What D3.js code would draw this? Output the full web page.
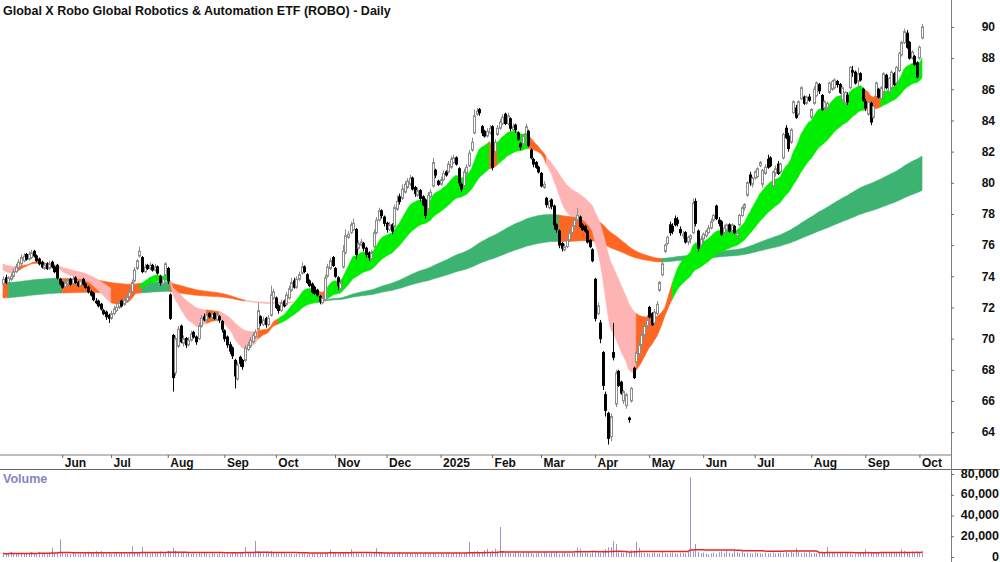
<!DOCTYPE html>
<html>
<head>
<meta charset="utf-8">
<script src="https://cdn.jsdelivr.net/npm/d3@7"></script>
<style>
  body { margin: 0; background: #fff; }
  svg { display: block; }
</style>
</head>
<body>
<svg id="chart" width="1000" height="562"></svg>
<script>
const title = "Global X Robo Global Robotics & Automation ETF (ROBO) - Daily";

// month labels and the bar index of the first trading day of each month
const monthLabels = ["Jun","Jul","Aug","Sep","Oct","Nov","Dec","2025","Feb","Mar","Apr","May","Jun","Jul","Aug","Sep","Oct"];
const monthIdx = [23,42,64,86,106,129,149,170,190,209,230,251,272,292,314,335,356];

const priceTicks = [64,66,68,70,72,74,76,78,80,82,84,86,88,90];
const volumeTicks = [0,20,40,60,80]; // thousands

// daily bars: [open, high, low, close]
const candles = [
[73.5,74.0,73.4,73.8],[73.9,74.1,73.5,73.6],[73.6,74.0,73.5,73.9],[73.8,74.2,73.7,74.0],[74.0,74.5,73.9,74.3],[74.3,74.8,74.2,74.6],[74.5,75.1,74.4,74.9],[74.8,75.4,74.7,75.2],[75.0,75.5,74.9,75.3],[75.4,75.5,75.0,75.1],
[75.1,75.6,75.0,75.4],[75.2,75.7,75.1,75.5],[75.6,75.7,75.2,75.3],[75.3,75.4,74.9,75.0],[75.1,75.2,74.7,74.8],[74.9,75.0,74.5,74.6],[74.5,74.9,74.4,74.7],[74.8,74.9,74.4,74.5],[74.5,75.0,74.4,74.8],[74.9,75.0,74.5,74.6],
[74.6,74.7,74.2,74.3],[74.7,74.8,73.8,73.9],[73.8,73.9,73.4,73.5],[73.6,73.7,73.2,73.3],[73.3,73.8,73.2,73.6],[73.5,73.9,73.4,73.7],[73.8,73.9,73.4,73.5],[73.5,74.0,73.4,73.8],[73.9,74.0,73.5,73.6],[73.6,73.7,73.3,73.4],
[73.4,73.8,73.3,73.7],[73.8,73.9,73.4,73.5],[73.5,73.6,73.2,73.3],[73.3,73.4,72.9,73.0],[73.0,73.1,72.7,72.8],[72.9,73.0,72.4,72.5],[72.4,72.6,72.2,72.3],[72.4,72.5,72.0,72.1],[72.2,72.3,71.8,71.9],[71.8,71.9,71.5,71.6],
[71.7,71.8,71.2,71.4],[71.5,71.6,71.0,71.3],[71.3,71.8,71.2,71.6],[71.6,72.1,71.5,71.9],[71.8,72.2,71.7,72.0],[72.0,72.5,71.9,72.3],[72.4,72.5,72.0,72.1],[72.2,72.7,72.1,72.5],[72.4,72.9,72.3,72.7],[72.7,73.2,72.6,73.0],
[73.0,73.8,72.9,73.6],[73.7,74.6,73.6,74.4],[74.5,75.1,74.4,75.0],[75.3,75.9,75.2,75.6],[75.2,75.3,74.2,74.3],[74.3,74.8,74.2,74.6],[74.7,74.8,74.4,74.5],[74.5,74.9,74.4,74.7],[74.7,74.8,74.3,74.4],[74.4,74.8,74.3,74.6],
[74.6,74.7,74.1,74.2],[74.0,74.1,73.4,73.6],[73.5,73.9,73.4,73.8],[74.1,74.9,74.0,74.8],[74.5,74.6,73.5,73.7],[72.8,72.9,71.2,71.3],[70.2,70.3,66.6,67.5],[67.8,70.2,67.6,70.0],[69.5,70.8,69.4,70.6],[70.8,70.9,69.7,69.8],
[69.7,70.2,69.5,70.0],[70.0,70.1,69.4,69.6],[69.6,70.1,69.5,69.9],[69.9,70.5,69.8,70.3],[70.4,70.5,70.0,70.1],[70.1,70.2,69.6,69.8],[70.0,71.0,69.9,70.8],[70.8,71.5,70.7,71.3],[71.4,71.6,71.1,71.2],[71.2,71.7,71.1,71.5],
[71.6,71.7,71.3,71.4],[71.3,71.8,71.2,71.6],[71.6,71.7,71.2,71.3],[71.2,71.7,71.1,71.5],[71.4,71.5,71.0,71.2],[71.1,71.2,70.4,70.6],[70.5,70.6,69.8,70.0],[70.1,70.2,69.4,69.6],[69.6,69.8,69.0,69.2],[69.4,69.5,68.7,68.9],
[68.6,68.7,66.8,67.6],[67.4,68.5,67.3,68.3],[68.8,68.9,68.2,68.4],[68.6,68.7,68.0,68.2],[68.6,69.6,68.5,69.4],[69.3,69.8,69.2,69.6],[69.5,70.1,69.4,69.9],[69.8,70.4,69.7,70.2],[70.1,70.6,70.0,70.4],[70.6,72.3,70.5,71.8],
[71.4,71.5,70.8,71.0],[70.9,71.4,70.8,71.2],[71.3,71.4,70.7,70.9],[70.9,71.5,70.8,71.3],[71.5,73.4,71.4,72.8],[72.6,73.2,72.5,73.0],[72.6,72.7,71.9,72.0],[72.1,72.2,71.6,71.8],[71.8,72.5,71.7,72.3],[72.4,72.5,72.0,72.1],
[72.2,73.0,72.1,72.8],[72.6,73.4,72.5,73.2],[73.1,73.9,73.0,73.6],[73.7,73.9,73.2,73.3],[73.3,74.0,73.2,73.8],[73.8,74.3,73.7,74.1],[74.2,74.9,74.1,74.6],[74.6,74.7,74.2,74.3],[74.1,74.2,73.5,73.6],[73.7,73.8,73.3,73.4],
[73.5,73.6,72.9,73.0],[73.3,73.4,72.8,72.9],[73.1,73.2,72.7,72.8],[72.7,72.8,72.2,72.4],[72.3,72.8,72.2,72.6],[72.5,74.1,72.4,73.9],[74.0,74.8,73.9,74.6],[74.5,75.2,74.4,75.0],[75.2,75.3,74.6,74.7],[74.5,74.6,73.9,74.0],
[73.9,74.0,73.1,73.4],[73.2,73.8,73.1,73.6],[74.6,76.0,74.5,75.6],[75.5,77.0,75.4,76.6],[76.5,76.9,76.4,76.7],[76.8,77.5,76.7,77.3],[77.0,77.7,76.9,77.4],[77.0,77.1,75.1,75.4],[75.8,76.3,75.7,76.1],[76.0,76.4,75.9,76.2],
[76.1,76.2,75.6,75.8],[75.8,75.9,75.2,75.4],[75.5,75.6,75.0,75.2],[75.1,75.7,75.0,75.5],[75.9,77.0,75.8,76.8],[76.8,77.8,76.7,77.6],[77.6,78.4,77.5,78.2],[78.2,78.3,77.7,77.9],[77.8,77.9,77.2,77.4],[77.4,77.5,76.8,77.0],
[77.0,77.5,76.9,77.3],[77.3,77.4,76.7,76.9],[77.2,78.6,77.1,78.4],[78.3,79.2,78.2,78.8],[79.1,79.3,78.6,78.8],[79.0,79.9,78.9,79.6],[79.4,80.1,79.3,79.9],[79.7,80.3,79.6,80.1],[79.9,80.5,79.8,80.3],[80.3,80.4,79.5,79.6],
[79.7,79.8,79.1,79.3],[79.2,79.7,79.1,79.5],[79.5,79.6,78.8,79.0],[79.1,79.2,78.5,78.6],[78.9,79.0,77.7,77.9],[78.3,79.4,78.2,79.2],[79.1,79.6,79.0,79.4],[79.8,81.6,79.7,81.3],[80.8,80.9,80.3,80.5],[80.1,80.2,79.8,79.9],
[79.9,80.4,79.8,80.2],[80.2,80.8,80.1,80.6],[80.7,80.8,80.4,80.5],[80.7,81.4,80.6,81.2],[81.0,81.7,80.9,81.5],[81.3,81.8,81.2,81.6],[81.6,81.7,81.1,81.2],[80.9,81.0,79.8,80.0],[79.9,80.0,79.4,79.6],[79.8,80.9,79.7,80.7],
[80.6,81.2,80.5,81.0],[81.1,82.1,81.0,81.9],[82.1,82.9,82.0,82.6],[83.2,84.7,83.1,84.3],[84.4,84.8,84.3,84.6],[84.7,84.8,84.3,84.5],[83.6,83.7,83.0,83.2],[83.3,83.4,82.9,83.0],[83.0,83.5,82.9,83.3],[83.2,83.7,83.1,83.5],
[83.6,83.7,80.8,81.0],[82.0,82.8,81.9,82.6],[83.1,83.7,83.0,83.5],[83.5,84.1,83.4,83.9],[83.8,84.4,83.7,84.2],[84.4,84.5,83.7,83.8],[83.8,84.5,83.7,84.3],[84.1,84.2,83.3,83.5],[83.4,83.8,83.3,83.6],[83.7,83.8,83.2,83.4],
[83.2,83.3,82.7,82.8],[82.5,82.6,82.1,82.3],[82.5,83.1,82.4,83.0],[83.1,83.8,83.0,83.6],[83.3,83.4,82.3,82.4],[82.1,82.2,81.5,81.6],[81.5,81.6,81.0,81.2],[81.3,81.4,80.9,81.0],[81.0,81.1,80.6,80.7],[80.6,80.7,79.7,79.8],
[79.7,80.1,79.6,79.9],[79.0,79.1,78.4,78.6],[78.4,78.9,78.3,78.8],[78.9,79.0,78.3,78.5],[78.5,78.6,77.0,77.3],[77.3,77.4,76.8,77.0],[76.9,77.0,75.8,76.0],[76.1,76.2,75.6,75.8],[75.7,76.1,75.6,75.9],[75.9,76.5,75.8,76.3],
[76.3,77.0,76.2,76.8],[76.8,77.3,76.7,77.2],[77.2,77.8,77.1,77.6],[77.6,78.4,77.5,77.9],[77.8,77.9,77.1,77.2],[77.3,77.4,76.9,77.0],[77.2,77.3,76.8,76.9],[76.9,77.0,76.1,76.2],[76.3,76.4,75.8,75.9],[75.7,75.8,74.9,75.0],
[73.8,73.9,71.1,71.3],[71.6,72.3,71.5,72.1],[71.0,71.2,69.7,70.0],[69.1,69.2,66.7,67.0],[66.4,66.6,65.0,65.4],[65.2,65.3,63.2,63.6],[63.7,65.2,63.4,65.0],[69.1,71.0,68.6,68.8],[65.8,68.0,65.6,67.8],[67.9,68.0,66.9,67.0],
[67.2,67.3,66.4,66.5],[66.0,66.7,65.8,66.6],[65.7,66.5,65.5,66.4],[64.9,65.0,64.6,64.8],[66.0,66.9,65.9,66.8],[68.1,68.2,67.4,67.5],[68.5,69.3,68.4,69.1],[69.0,69.8,68.9,69.6],[69.6,70.4,69.5,70.2],[70.2,71.0,70.0,70.8],
[70.8,71.5,70.6,71.2],[72.0,72.1,71.3,71.4],[71.6,71.7,70.8,70.9],[71.0,71.9,70.9,71.7],[71.6,72.4,71.5,72.2],[73.1,73.7,73.0,73.6],[74.1,74.9,74.0,74.8],[75.6,76.1,75.5,76.0],[76.1,76.6,76.0,76.5],[77.3,77.5,76.6,76.8],
[77.2,77.4,76.7,76.9],[77.7,77.9,77.2,77.3],[77.6,77.8,77.2,77.4],[77.0,77.2,76.6,76.8],[76.6,76.9,76.4,76.7],[76.8,76.9,76.1,76.2],[76.2,76.6,76.0,76.5],[76.4,76.7,76.1,76.6],[76.8,79.0,76.7,78.7],[78.8,79.0,77.2,77.4],
[76.9,77.0,75.6,75.8],[76.0,76.6,75.9,76.4],[76.4,76.8,76.2,76.7],[76.6,77.0,76.5,76.9],[76.8,77.3,76.7,77.1],[77.1,77.7,77.0,77.5],[77.6,78.0,77.5,77.9],[78.5,78.6,77.6,77.7],[77.6,77.8,77.2,77.4],[77.5,77.6,76.6,76.7],
[76.8,77.3,76.7,77.1],[77.0,77.4,76.8,77.3],[77.3,77.4,76.8,76.9],[76.9,77.4,76.8,77.3],[77.2,77.3,76.7,76.8],[76.6,76.9,76.4,76.8],[77.3,78.0,77.2,77.9],[77.9,78.5,77.8,78.4],[78.4,78.7,78.2,78.6],[79.2,80.1,79.1,80.0],
[80.5,80.7,79.8,80.0],[79.9,80.4,79.7,80.3],[80.3,80.8,80.2,80.7],[80.4,81.0,80.3,80.9],[81.1,81.4,81.0,81.3],[79.9,80.9,79.7,80.8],[80.6,81.2,80.5,81.0],[81.5,81.8,80.9,81.0],[81.6,81.7,81.0,81.1],[79.8,80.8,79.6,80.7],
[80.6,81.1,80.4,80.9],[81.2,81.4,80.5,80.6],[80.7,81.3,80.6,81.2],[81.6,83.2,81.5,83.1],[83.5,83.7,82.8,82.9],[83.0,83.2,82.0,82.2],[82.6,83.5,82.5,83.4],[84.5,85.3,84.4,85.2],[84.8,85.0,84.1,84.2],[84.4,85.3,84.3,85.2],
[85.4,86.2,85.3,86.1],[85.5,85.6,85.0,85.1],[85.1,85.6,85.0,85.5],[85.5,85.7,85.2,85.3],[84.2,84.8,84.1,84.7],[85.1,86.2,85.0,86.0],[85.6,86.5,85.5,86.4],[86.3,86.4,85.7,85.9],[85.6,85.7,84.6,84.7],[84.8,85.3,84.7,85.2],
[84.8,85.2,84.6,85.1],[85.8,86.5,85.7,86.4],[86.0,86.6,85.9,86.5],[86.1,86.7,86.0,86.6],[86.5,86.6,86.1,86.3],[86.3,86.4,85.7,85.8],[85.3,86.2,85.2,86.1],[85.1,85.9,85.0,85.8],[85.6,85.8,85.0,85.2],[86.1,87.5,86.0,87.4],
[87.2,87.5,86.8,87.1],[87.1,87.2,86.3,86.4],[86.5,87.4,86.1,87.0],[87.0,87.1,86.5,86.6],[86.0,86.1,85.2,85.3],[85.2,85.4,84.6,84.8],[84.4,85.3,84.3,85.2],[85.1,85.2,83.7,83.9],[84.2,85.0,84.1,84.9],[85.5,86.5,85.4,86.4],
[86.0,86.1,85.4,85.5],[85.4,86.2,85.3,86.1],[85.8,87.1,85.7,87.0],[86.9,87.0,86.0,86.1],[85.8,86.8,85.7,86.7],[86.1,87.2,86.0,87.1],[87.0,87.1,86.2,86.3],[86.4,87.5,86.3,87.4],[87.2,88.4,87.1,88.3],[88.2,89.1,88.1,89.0],
[89.0,89.9,88.9,89.7],[89.6,89.8,88.6,88.7],[89.0,89.1,87.9,88.0],[88.0,88.5,87.9,88.4],[88.1,88.2,87.5,87.6],[87.7,87.8,86.7,86.8],[88.0,88.8,87.9,88.7],[89.3,90.2,89.2,90.0]
];

// daily volume, thousands of shares
const volumes = [
3.5,2.8,3.2,4.6,2.9,3.8,3.1,4.0,3.3,2.7, 3.6,4.5,3.0,3.4,5.0,3.2,2.9,3.8,4.2,9.0,
3.5,4.1,17.0,3.9,3.0,3.3,2.8,3.7,3.1,2.6, 3.4,3.0,4.2,5.2,3.6,4.8,5.6,3.9,5.9,3.3,
3.1,3.6,2.9,3.4,3.8,3.0,4.4,3.2,2.8,3.5, 10.5,4.2,3.6,4.8,9.5,3.9,4.6,3.3,4.1,3.7,
4.9,5.4,3.5,4.6,6.0,5.2,9.0,6.3,4.8,3.9, 4.1,3.4,4.7,3.0,3.6,2.9,3.8,3.2,4.5,3.4,
2.8,3.6,3.1,2.7,3.5,3.0,2.6,3.3,2.9,3.7, 4.8,3.2,3.6,3.9,9.5,4.2,5.0,3.8,15.5,5.6,
4.2,3.5,4.8,3.9,6.0,4.3,3.6,3.2,4.1,3.7, 3.0,2.8,3.4,2.6,3.1,2.9,3.6,3.3,2.7,3.0,
3.5,3.2,2.9,3.8,3.4,4.6,3.9,7.0,3.6,4.2, 3.3,3.8,4.5,3.9,4.1,7.5,3.7,4.4,3.2,3.6,
3.1,3.9,4.3,3.5,4.0,8.5,4.6,3.8,3.4,4.2, 3.6,3.1,4.4,3.8,4.7,3.5,3.2,4.0,3.7,3.3,
3.0,3.8,3.4,2.9,4.1,3.6,3.2,3.9,3.5,2.8, 3.3,3.0,3.7,3.4,2.9,3.8,3.5,4.3,3.1,3.6,
4.0,14.5,4.9,5.3,6.0,4.4,5.0,6.6,8.0,4.7, 6.2,8.0,5.4,29.0,4.6,3.9,4.3,3.6,3.2,4.5,
3.8,3.4,4.2,3.6,4.8,3.9,3.1,3.5,4.0,3.3, 4.6,3.8,3.2,4.1,3.7,4.4,3.0,3.6,3.9,3.4,
3.1,4.0,4.7,9.0,8.0,3.6,4.2,3.8,3.3,4.9, 5.2,4.4,3.9,6.0,7.5,9.5,9.5,15.5,12.5,5.4,
4.6,3.8,5.0,4.2,6.5,5.8,14.5,9.0,4.4,3.9, 3.6,3.2,3.8,4.1,3.0,3.4,4.5,3.7,3.2,3.9,
4.2,3.6,3.1,4.0,3.8,3.4,4.6,77.0,5.5,12.5, 4.8,3.9,4.3,3.2,2.8,3.5,4.1,3.3,4.6,5.2,
3.8,6.5,4.2,3.6,5.9,4.4,3.8,6.2,3.7,4.0, 3.5,3.2,4.3,3.9,3.6,3.0,4.1,3.4,3.8,4.5,
3.3,3.9,4.2,3.6,4.8,3.5,5.0,4.1,8.5,4.6, 3.8,4.3,3.6,4.9,3.4,4.0,3.7,4.4,3.9,4.6,
9.5,4.2,3.8,4.5,3.6,4.1,3.3,3.7,4.4,3.5, 2.6,3.0,3.4,4.2,3.9,7.5,4.5,5.1,4.0,3.6,
4.3,3.8,4.6,3.5,3.9,4.2,3.7,4.5,5.0,7.5, 6.0,4.8,4.2,5.4,4.6,3.9,4.4,6.0
];

// multiple moving averages: periods and their values just before the first bar
const shortPeriods = [14,17,20,24,29,36];
const shortSeed = [74.5,74.6,74.7,74.75,74.8,74.85];
const longPeriods = [150,165,180,200,225,260];
const longSeed = [73.6,73.4,73.2,73.0,72.8,72.6];

// band colour changes (bar index where each colour begins)
const shortColorStart = [0,5,20,42,53,65,79,84,99,107,123,126,189,192,204,211,246,260,335,341];
const shortColorKey = ["pink","orange","pink","orange","green","pink","orange","pink","orange","green","orange","green","orange","green","orange","pink","orange","green","orange","green"];
const longColorStart = [0,2,23,54,65,94,125,216,256];
const longColorKey = ["orange","green","orange","green","orange","pink","green","orange","green"];

const volumeAvgPeriod = 50;

const shortPalette = {green: "#00ee00", orange: "#ff6622", pink: "#ffb4b4"};
const longPalette = {green: "#3cb371", orange: "#ff6622", pink: "#f9b8aa"};

const font = "'Liberation Sans Narrow', 'Liberation Sans', Arial, sans-serif";

const width = 1000, height = 562;
const plotRight = 951, priceBottom = 455, dateBottom = 469;

const svg = d3.select("#chart");

const x = d3.scaleLinear().domain([0, candles.length - 1]).range([3, 922]);
const y = d3.scaleLinear().domain([62.53, 91.73]).range([priceBottom, 0]);
const yVol = d3.scaleLinear().domain([0, 80]).range([557, 474]);

svg.append("defs").append("clipPath").attr("id", "clip")
    .append("rect").attr("width", plotRight).attr("height", priceBottom);

const plot = svg.append("g").attr("clip-path", "url(#clip)");

// exponential moving averages of the closes
function emaGroup(periods, seeds){
    return periods.map((p, k) => {
        const a = 2 / (p + 1);
        let v = seeds[k];
        return candles.map(c => (v = v + a * (c[3] - v)));
    });
}

function drawBand(group, starts, keys, palette){
    const lo = candles.map((c, i) => d3.min(group, g => g[i]));
    const hi = candles.map((c, i) => d3.max(group, g => g[i]));
    const area = d3.area()
        .x(i => x(i))
        .y0(i => y(lo[i]))
        .y1(i => y(hi[i]));

    starts.forEach((s, k) => {
        const e = k < starts.length - 1 ? starts[k + 1] : candles.length - 1;
        plot.append("path")
            .datum(d3.range(s, e + 1))
            .attr("d", area)
            .attr("fill", palette[keys[k]])
            .attr("stroke", palette[keys[k]])
            .attr("stroke-width", 0.6);
    });
}

drawBand(emaGroup(longPeriods, longSeed), longColorStart, longColorKey, longPalette);
drawBand(emaGroup(shortPeriods, shortSeed), shortColorStart, shortColorKey, shortPalette);

// candles
const bars = candles.map((c, i) => ({i: i, o: c[0], h: c[1], l: c[2], c: c[3], up: c[3] >= c[0]}));
const cx = d => Math.round(x(d.i)) + 0.5;

plot.selectAll("line.wick").data(bars).join("line")
    .attr("class", "wick")
    .attr("x1", cx).attr("x2", cx)
    .attr("y1", d => y(d.h)).attr("y2", d => y(d.l))
    .attr("stroke", d => d.up ? "#8c8c8c" : "#000")
    .attr("stroke-width", 1);

plot.selectAll("rect.body").data(bars).join("rect")
    .attr("class", "body")
    .attr("x", d => cx(d) - 1)
    .attr("width", 2)
    .attr("y", d => y(Math.max(d.o, d.c)))
    .attr("height", d => Math.max(1, Math.abs(y(d.o) - y(d.c))))
    .attr("fill", d => d.up ? "#fff" : "#000")
    .attr("stroke", d => d.up ? "#8c8c8c" : "#000")
    .attr("stroke-width", 1);

// volume bars and average
svg.append("g").selectAll("rect").data(volumes).join("rect")
    .attr("x", (v, i) => Math.round(x(i)))
    .attr("width", 1)
    .attr("y", v => yVol(v))
    .attr("height", v => yVol(0) - yVol(v))
    .attr("fill", "#9797d2");

const volAvg = volumes.map((v, i) => d3.mean(volumes.slice(Math.max(0, i - volumeAvgPeriod + 1), i + 1)));
svg.append("path")
    .datum(volAvg)
    .attr("d", d3.line().x((v, i) => x(i)).y(v => yVol(v)))
    .attr("fill", "none")
    .attr("stroke", "#ee2222")
    .attr("stroke-width", 1.5);

// frame lines
svg.append("line").attr("x1", 0).attr("x2", plotRight).attr("y1", priceBottom).attr("y2", priceBottom)
    .attr("stroke", "#a8a8a8").attr("stroke-width", 1.5);
svg.append("line").attr("x1", 0).attr("x2", width).attr("y1", dateBottom + 0.5).attr("y2", dateBottom + 0.5)
    .attr("stroke", "#666").attr("stroke-width", 1);
svg.append("line").attr("x1", plotRight + 0.5).attr("x2", plotRight + 0.5).attr("y1", 0).attr("y2", height)
    .attr("stroke", "#808080").attr("stroke-width", 1);

// price axis
const yAxis = svg.append("g")
    .attr("transform", `translate(${plotRight},0)`)
    .call(d3.axisRight(y).tickValues(priceTicks).tickSize(3).tickFormat(d3.format("d")));
yAxis.select(".domain").remove();
yAxis.attr("font-family", font).attr("font-size", 12).attr("font-weight", "bold");
yAxis.selectAll("line").attr("stroke", "#666");
yAxis.selectAll("text").attr("x", 44).attr("text-anchor", "end").attr("fill", "#111");

// volume axis
const vAxis = svg.append("g")
    .attr("transform", `translate(${plotRight},0)`)
    .call(d3.axisRight(yVol).tickValues(volumeTicks).tickSize(3).tickFormat(d => d3.format(",")(d * 1000)));
vAxis.select(".domain").remove();
vAxis.attr("font-family", font).attr("font-size", 12.5).attr("font-weight", "bold");
vAxis.selectAll("line").attr("stroke", "#666");
vAxis.selectAll("text").attr("x", 48).attr("y", -1).attr("text-anchor", "end").attr("fill", "#111");

// date axis
const xAxis = svg.append("g")
    .attr("transform", `translate(0,${priceBottom})`)
    .call(d3.axisBottom(x).tickValues(monthIdx).tickSize(3).tickFormat((d, k) => monthLabels[k]));
xAxis.select(".domain").remove();
xAxis.attr("font-family", font).attr("font-size", 12).attr("font-weight", "bold");
xAxis.selectAll("line").attr("stroke", "#666");
xAxis.selectAll("text").attr("x", 2).attr("y", 12).attr("dy", 0).attr("text-anchor", "start").attr("fill", "#111");

// titles
svg.append("text").attr("x", 3).attr("y", 15)
    .attr("font-family", font).attr("font-size", 12.5).attr("font-weight", "bold").attr("fill", "#111")
    .text(title);

svg.append("text").attr("x", 3).attr("y", 483)
    .attr("font-family", font).attr("font-size", 12.5).attr("font-weight", "bold").attr("fill", "#8484c4")
    .text("Volume");
</script>
</body>
</html>
